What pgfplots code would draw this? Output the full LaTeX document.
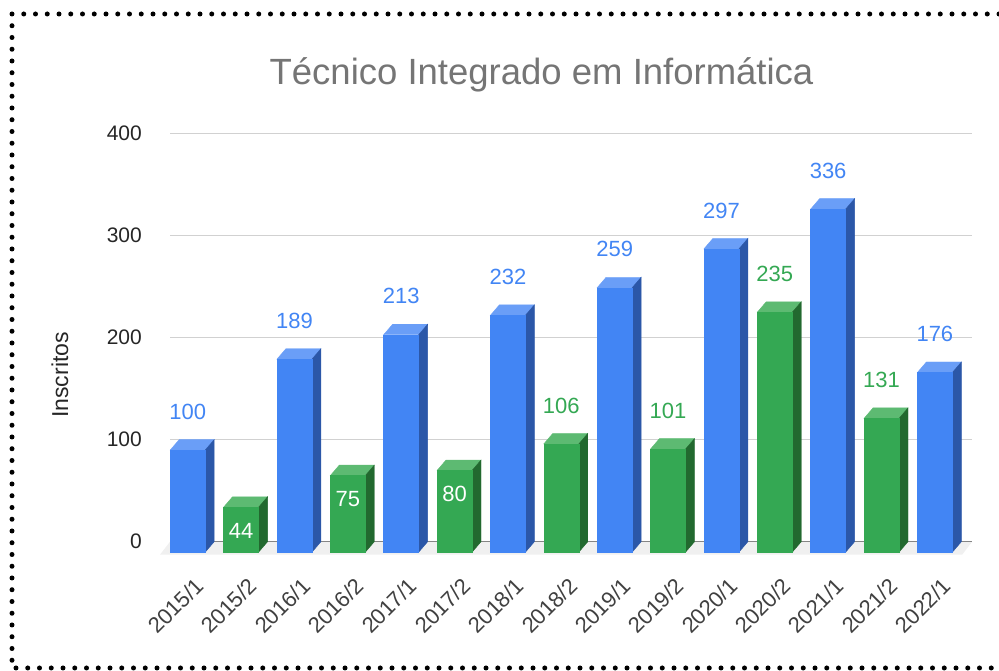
\documentclass[border=0pt]{standalone}
\usepackage{pgfplots}
\pgfplotsset{compat=1.18}
\usepackage{pgfplotstable}
\usepackage{fontspec}
\setmainfont{Liberation Sans}
\definecolor{bfront}{HTML}{4285F4}
\definecolor{bside}{HTML}{2B57A8}
\definecolor{btop}{HTML}{6A9EF7}
\definecolor{gfront}{HTML}{34A853}
\definecolor{gside}{HTML}{22692F}
\definecolor{gtop}{HTML}{5DBA72}
\definecolor{titlegray}{HTML}{757575}
\pgfdeclareplotmark{nothing}{}
\pgfplotsset{
  box3d/.style n args={5}{
    scatter, only marks, mark=nothing,
    visualization depends on={\thisrow{v} \as \rawv},
    scatter/@pre marker code/.code={%
      \pgfmathsetmacro\hh{\rawv*1.021}%
      \fill[#3] (-26.5pt,-10.5pt) -- (8.5pt,-10.5pt) -- (17.5pt,0pt) -- (-17.5pt,0pt) -- cycle;
      \fill[#2] (8.5pt,-10.5pt) -- (17.5pt,0pt) -- ({17.5pt},{-\hh pt}) -- ({8.5pt},{-\hh pt-10.5pt}) -- cycle;
      \fill[#1] ({-26.5pt},{-\hh pt-10.5pt}) rectangle (8.5pt,-10.5pt);
      \node[text=#4, font=\fontsize{22}{22}\selectfont, inner sep=0pt, anchor=center] at (-9pt,#5) {\pgfmathprintnumber[assume math mode=true]{\rawv}};
    },
    scatter/@post marker code/.code={},
  }
}
\pgfplotstableread{
x v
0 100
2 189
4 213
6 232
8 259
10 297
12 336
14 176
}\blueT
\pgfplotstableread{
x v
1 44
3 75
5 80
}\greeninT
\pgfplotstableread{
x v
7 106
9 101
11 235
13 131
}\greenoutT
\begin{document}
\begin{tikzpicture}
\path[use as bounding box] (0,0) rectangle (999pt,671pt);
\draw[line width=5pt, line cap=round, dash pattern=on 0pt off 11.75pt] (999pt,657pt) -- (12pt,657pt) -- (12pt,3pt) -- (999pt,3pt);
\node[text=titlegray, font=\fontsize{36.5}{40}\selectfont, anchor=base] at (541.5pt,586pt) {Técnico Integrado em Informática};
\node[rotate=90, font=\fontsize{23}{23}\selectfont, text=black!85] at (60pt,296pt) {Inscritos};
\begin{axis}[
  at={(170pt,129.3pt)}, anchor=south west,
  x=53.37pt, y=1.021pt,
  xmin=-0.5, xmax=14.53, ymin=0, ymax=400,
  clip=false,
  axis line style={draw=none},
  tick style={draw=none},
  major tick length=0pt,
  ymajorgrids,
  grid style={line width=1.2pt, draw=black!18},
  ytick={0,100,200,300,400},
  extra y ticks={0}, extra y tick labels={},
  extra y tick style={grid style={line width=1.3pt, draw=black!70}},
  xtick={0,...,14},
  xticklabels={2015/1,2015/2,2016/1,2016/2,2017/1,2017/2,2018/1,2018/2,2019/1,2019/2,2020/1,2020/2,2021/1,2021/2,2022/1},
  /pgf/number format/assume math mode=true,
  yticklabel style={font=\fontsize{21}{21}\selectfont, text=black!85, inner sep=0pt, xshift=-28pt},
  xticklabel style={font=\fontsize{22}{22}\selectfont, text=black!75, inner sep=0pt, anchor=east, xshift=3pt, yshift=-40pt, rotate=45},
]
\fill[black!6] (axis cs:-0.5,0) -- (axis cs:14.53,0) -- ([shift={(-10pt,-13pt)}]axis cs:14.53,0) -- ([shift={(-10pt,-13pt)}]axis cs:-0.5,0) -- cycle;
\addplot[box3d={bfront}{bside}{btop}{bfront}{28pt}] table[x=x,y=v] {\blueT};
\addplot[box3d={gfront}{gside}{gtop}{gfront}{28pt}] table[x=x,y=v] {\greenoutT};
\addplot[box3d={gfront}{gside}{gtop}{white}{-34pt}] table[x=x,y=v] {\greeninT};
\end{axis}
\end{tikzpicture}
\end{document}
